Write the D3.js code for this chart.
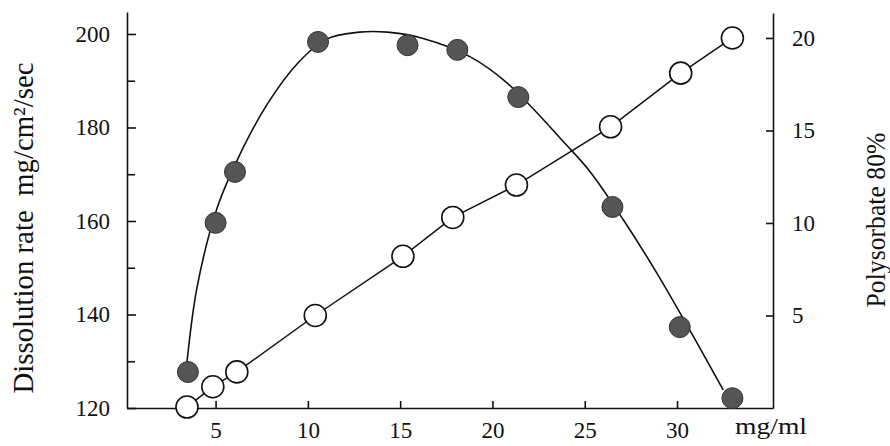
<!DOCTYPE html>
<html lang="en">

<head>
    <meta charset="UTF-8">
    <script src="https://cdnjs.cloudflare.com/ajax/libs/d3/7.9.0/d3.min.js"></script>
    <title>Dissolution rate vs concentration</title>
    <style>
        body {
            margin: 0;
            background-color: white;
        }

        svg {
            display: block;
            font-family: "Liberation Serif", "DejaVu Serif", serif;
        }

        .axis path,
        .axis line {
            stroke: #111;
            stroke-width: 1.6;
        }

        .axis text {
            fill: #111;
        }
    </style>
</head>

<body>
    <script>
        const width = 890;
        const height = 446;

        // filled circles: dissolution rate (left axis)
        const concFilled = [3.5, 5.0, 6.05, 10.55, 15.4, 18.1, 21.4, 26.5, 30.15, 33.0];
        const dissolutionRate = [127.7, 159.6, 170.5, 198.3, 197.6, 196.6, 186.5, 163.0, 137.3, 122.1];

        // fitted curve drawn through the filled points
        const fitConc = [3.45, 4.0, 5.1, 6.3, 7.8, 9.46, 11.0, 12.8, 14.3, 16.2, 18.8, 20.8, 24.0, 25.3, 27.1, 28.9, 30.9, 32.5];
        const fitRate = [129.8, 145.9, 163.0, 174.1, 185.0, 193.8, 198.9, 200.4, 200.4, 199.1, 195.1, 189.5, 176.3, 170.5, 160.2, 148.9, 135.2, 123.9];

        // open circles: polysorbate 80 % (right axis)
        const concOpen = [3.45, 4.85, 6.15, 10.4, 15.15, 17.85, 21.3, 26.4, 30.2, 33.0];
        const polysorbate = [0.05, 1.15, 1.95, 5.0, 8.2, 10.3, 12.05, 15.2, 18.1, 20.0];

        // tick labels
        const xTicks = [5, 10, 15, 20, 25, 30];
        const leftTicks = [120, 140, 160, 180, 200];
        const leftMinorTicks = [130, 150, 170, 190];
        const rightTicks = [5, 10, 15, 20];

        const svg = d3.select('body')
            .append('svg')
            .attr('width', width)
            .attr('height', height);

        // Scales
        const x = d3.scaleLinear().domain([0.2, 35.2]).range([127, 773]);
        const yLeft = d3.scaleLinear().domain([120, 204.7]).range([408, 12]);
        const yRight = d3.scaleLinear().domain([0, 21.35]).range([408, 13]);

        // Axes (ticks point inward)
        svg.append('g')
            .attr('class', 'axis')
            .attr('transform', 'translate(0,408)')
            .call(d3.axisBottom(x).tickValues(xTicks).tickSizeInner(-7).tickSizeOuter(0).tickPadding(14));

        svg.append('g')
            .attr('class', 'axis')
            .attr('transform', 'translate(127,0)')
            .call(d3.axisLeft(yLeft).tickValues(leftTicks).tickSizeInner(-9).tickSizeOuter(0).tickPadding(17));

        svg.append('g')
            .attr('class', 'axis')
            .attr('transform', 'translate(127,0)')
            .call(d3.axisLeft(yLeft).tickValues(leftMinorTicks).tickSizeInner(-8).tickSizeOuter(0).tickFormat(''))
            .select('.domain').remove();

        svg.append('g')
            .attr('class', 'axis')
            .attr('transform', 'translate(773,0)')
            .call(d3.axisRight(yRight).tickValues(rightTicks).tickSizeInner(-7).tickSizeOuter(0).tickPadding(19));

        // d3 puts sans-serif on the axis groups, use the page serif instead
        svg.selectAll('.axis')
            .attr('font-family', 'Liberation Serif, serif')
            .attr('font-size', 23);

        // Unit label on x axis
        svg.append('text')
            .attr('x', 735)
            .attr('y', 434)
            .attr('font-size', 24)
            .attr('fill', '#111')
            .attr('textLength', 72)
            .attr('lengthAdjust', 'spacingAndGlyphs')
            .text('mg/ml');

        // Axis titles
        svg.append('text')
            .attr('transform', 'translate(33,228) rotate(-90)')
            .attr('text-anchor', 'middle')
            .attr('font-size', 29)
            .attr('fill', '#111')
            .attr('textLength', 331)
            .attr('lengthAdjust', 'spacingAndGlyphs')
            .style('white-space', 'pre')
            .text('Dissolution rate  mg/cm²/sec');

        svg.append('text')
            .attr('transform', 'translate(885,220) rotate(-90)')
            .attr('text-anchor', 'middle')
            .attr('font-size', 27)
            .attr('fill', '#111')
            .attr('textLength', 175)
            .attr('lengthAdjust', 'spacingAndGlyphs')
            .text('Polysorbate 80%');

        // Fitted curve
        const fitLine = d3.line()
            .x((d, i) => x(fitConc[i]))
            .y(d => yLeft(d))
            .curve(d3.curveCatmullRom);

        svg.append('path')
            .datum(fitRate)
            .attr('d', fitLine)
            .attr('fill', 'none')
            .attr('stroke', '#111')
            .attr('stroke-width', 1.6);

        // Straight line through open circles
        const openLine = d3.line()
            .x((d, i) => x(concOpen[i]))
            .y(d => yRight(d));

        svg.append('path')
            .datum(polysorbate)
            .attr('d', openLine)
            .attr('fill', 'none')
            .attr('stroke', '#111')
            .attr('stroke-width', 1.5);

        // Filled circles
        svg.selectAll('.filled')
            .data(dissolutionRate)
            .enter()
            .append('circle')
            .attr('class', 'filled')
            .attr('cx', (d, i) => x(concFilled[i]))
            .attr('cy', d => yLeft(d))
            .attr('r', 10.5)
            .attr('fill', '#555')
            .attr('stroke', '#333')
            .attr('stroke-width', 1);

        // Open circles
        svg.selectAll('.open')
            .data(polysorbate)
            .enter()
            .append('circle')
            .attr('class', 'open')
            .attr('cx', (d, i) => x(concOpen[i]))
            .attr('cy', d => yRight(d))
            .attr('r', 11)
            .attr('fill', 'white')
            .attr('stroke', '#111')
            .attr('stroke-width', 1.6);
    </script>
</body>

</html>
